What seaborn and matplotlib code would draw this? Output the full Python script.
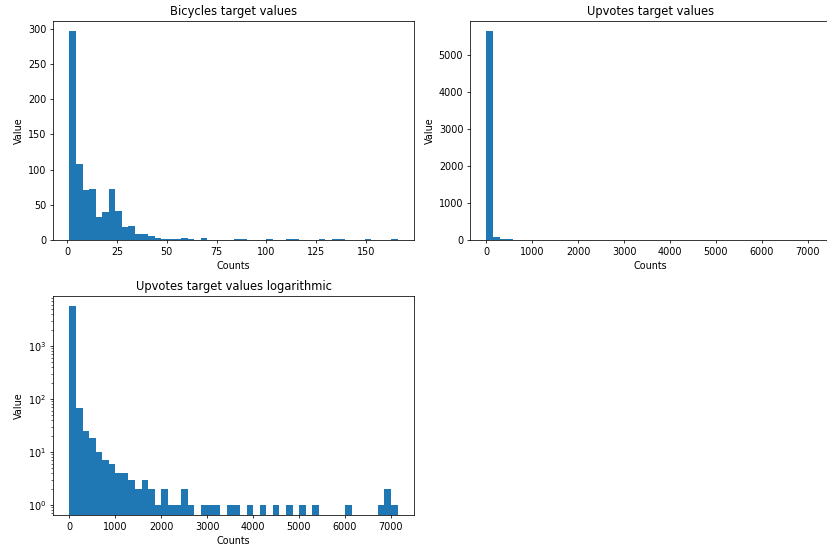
import numpy as np
import pandas as pd
import matplotlib
matplotlib.use("Agg")
import matplotlib.pyplot as plt
import seaborn as sns

# Histogram of the bicycles target: value range and per-bin counts (50 bins)
bicycles_range = (1, 166)
bicycles_counts = [296, 108, 71, 72, 33, 40, 72, 41, 18, 20,
                   8, 8, 5, 3, 2, 1, 1, 3, 2, 0,
                   3, 0, 0, 0, 0, 1, 2, 0, 0, 0,
                   2, 0, 0, 1, 1, 0, 0, 0, 1, 0,
                   1, 1, 0, 0, 0, 1, 0, 0, 0, 1]

# Histogram of the upvotes target: value range and per-bin counts (50 bins)
upvotes_range = (0, 7150)
upvotes_counts = [5640, 68, 25, 18, 10, 7, 6, 4, 4, 3,
                  2, 3, 2, 1, 2, 1, 1, 2, 1, 0,
                  1, 1, 1, 0, 1, 1, 0, 1, 0, 1,
                  0, 1, 0, 1, 0, 1, 0, 1, 0, 0,
                  0, 0, 1, 0, 0, 0, 0, 1, 2, 1]

titles = ["Bicycles target values", "Upvotes target values",
          "Upvotes target values logarithmic"]
x_label = "Counts"
y_label = "Value"

BLUE = "#1f77b4"


def binned_frame(value_range, counts):
    edges = np.linspace(value_range[0], value_range[1], len(counts) + 1)
    centers = (edges[:-1] + edges[1:]) / 2
    return pd.DataFrame({"value": centers, "count": counts}), edges.tolist()


W, H = 827, 548
DPI = 69
fig = plt.figure(figsize=(W / DPI, H / DPI), dpi=DPI)


def px_rect(left, top, right, bottom):
    return [left / W, 1 - bottom / H, (right - left) / W, (bottom - top) / H]


ax1 = fig.add_axes(px_rect(53, 21, 414, 240))
ax2 = fig.add_axes(px_rect(470, 21, 831, 240))
ax3 = fig.add_axes(px_rect(53, 296, 414, 515))

bike_df, bike_edges = binned_frame(bicycles_range, bicycles_counts)
up_df, up_edges = binned_frame(upvotes_range, upvotes_counts)

hist_kw = dict(x="value", weights="count", color=BLUE, alpha=1,
               linewidth=0, edgecolor="none")

sns.histplot(data=bike_df, bins=bike_edges, ax=ax1, **hist_kw)
sns.histplot(data=up_df, bins=up_edges, ax=ax2, **hist_kw)
sns.histplot(data=up_df, bins=up_edges, ax=ax3, **hist_kw)
ax3.set_yscale("log")

for ax, title in zip([ax1, ax2, ax3], titles):
    ax.set_title(title)
    ax.set_xlabel(x_label)
    ax.set_ylabel(y_label)

fig.savefig("out.png", dpi=DPI)
